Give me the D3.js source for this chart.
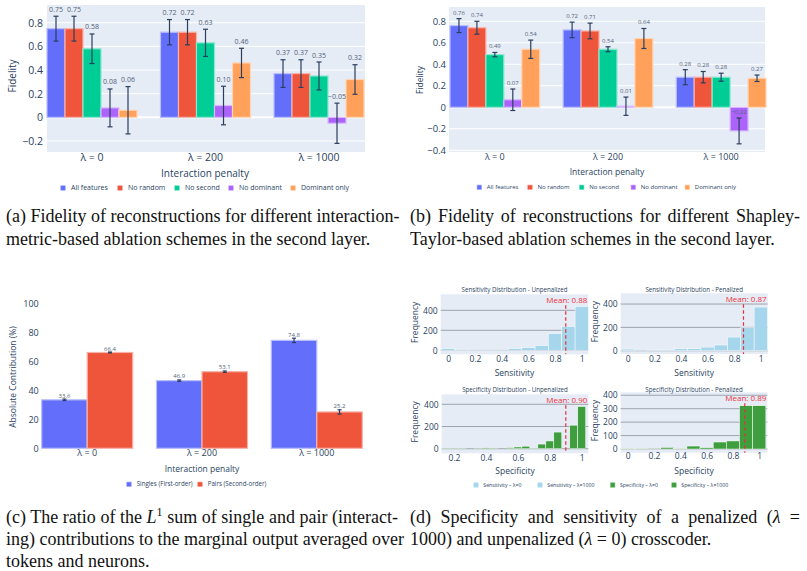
<!DOCTYPE html>
<html><head><meta charset="utf-8">
<script src="https://cdn.jsdelivr.net/npm/d3@7"></script>
<style>body{margin:0;background:#fff} svg{display:block}</style>
</head><body>
<svg id="fig" width="807" height="571"></svg>
<script>
// ---------------- DATA ----------------
const categories = ["λ = 0", "λ = 200", "λ = 1000"];
const ablationNames = ["All features", "No random", "No second", "No dominant", "Dominant only"];
const ablationColors = ["#636EFA", "#EF553B", "#00CC96", "#AB63FA", "#FFA15A"];
// (a) rows = series, columns = categories
const fidelityA = [[0.75, 0.72, 0.37], [0.75, 0.72, 0.37], [0.58, 0.63, 0.35], [0.08, 0.10, -0.05], [0.06, 0.46, 0.32]];
const errorA = [[0.105, 0.107, 0.117], [0.105, 0.107, 0.117], [0.125, 0.115, 0.118], [0.16, 0.163, 0.17], [0.20, 0.124, 0.125]];
const yTicksA = [-0.2, 0, 0.2, 0.4, 0.6, 0.8];
// (b)
const fidelityB = [[0.76, 0.72, 0.28], [0.74, 0.71, 0.28], [0.49, 0.54, 0.28], [0.07, 0.01, -0.22], [0.54, 0.64, 0.27]];
const errorB = [[0.065, 0.072, 0.07], [0.06, 0.073, 0.053], [0.02, 0.023, 0.037], [0.10, 0.085, 0.12], [0.085, 0.093, 0.03]];
const yTicksB = [-0.4, -0.2, 0, 0.2, 0.4, 0.6, 0.8];
// (c)
const orderNames = ["Singles (First-order)", "Pairs (Second-order)"];
const orderColors = ["#636EFA", "#EF553B"];
const contributionC = [[33.6, 46.9, 74.8], [66.4, 53.1, 25.2]];
const errorC = [[0.5, 0.5, 1.5], [0.3, 0.5, 1.5]];
const yTicksC = [0, 20, 40, 60, 80, 100];
// (d) histograms: bin centers and counts
const sensBins = [0, 0.1, 0.2, 0.3, 0.4, 0.5, 0.6, 0.7, 0.8, 0.9, 1.0];
const sensUnpenalized = [17, 7, 4, 4, 4, 17, 27, 47, 167, 237, 437];
const sensPenalized = [14, 2, 6, 6, 17, 17, 31, 49, 117, 197, 374];
const specBinsUnpen = [0.15, 0.2, 0.25, 0.3, 0.35, 0.4, 0.45, 0.5, 0.55, 0.6, 0.65, 0.7, 0.75, 0.8, 0.85, 0.9, 0.95, 1.0];
const specUnpenalized = [3, 3, 3, 0, 4, 9, 4, 0, 10, 16, 23, 2, 42, 70, 150, 0, 212, 380];
const specBinsPen = [0, 0.1, 0.2, 0.3, 0.4, 0.5, 0.6, 0.7, 0.8, 0.9, 1.0];
const specPenalized = [5, 5, 1, 12, 5, 22, 10, 52, 60, 322, 322];
const meanValues = [0.88, 0.87, 0.90, 0.89];
const histTitles = ["Sensitivity Distribution - Unpenalized", "Sensitivity Distribution - Penalized",
                    "Specificity Distribution - Unpenalized", "Specificity Distribution - Penalized"];
const histLegend = ["Sensitivity – λ=0", "Sensitivity – λ=1000", "Specificity – λ=0", "Specificity – λ=1000"];
const histColors = ["#A6D6EC", "#A6D6EC", "#3E9E3E", "#3E9E3E"];

// ---------------- DRAWING ----------------
const svg = d3.select("#fig");
const FONT = "'Open Sans', verdana, arial, sans-serif";
const INK = "#2a3f5f";
const SERIF = "'Liberation Serif', 'Times New Roman', serif";

function styleAxis(sel, size) {
  sel.attr("font-family", FONT).attr("font-size", size);
  sel.select(".domain").remove();
  sel.selectAll("text").attr("fill", INK);
}

function legend(items, colors, xs, y, size, sq, off) {
  const g = svg.append("g").attr("font-family", FONT).attr("font-size", size).attr("fill", INK);
  items.forEach((name, i) => {
    g.append("rect").attr("x", xs[i] - sq / 2).attr("y", y - sq / 2).attr("width", sq).attr("height", sq)
      .attr("fill", colors[i]).attr("stroke", d3.interpolateRgb(colors[i], "#fff")(0.4)).attr("stroke-width", 0.6);
    g.append("text").attr("x", xs[i] + off).attr("y", y).attr("dy", "0.35em").text(name);
  });
}

function barPanel(cfg) {
  const g = svg.append("g");
  const x = d3.scaleBand().domain(categories).range([cfg.barX0, cfg.barX1]).paddingInner(0.207).paddingOuter(0);
  const inner = d3.scaleBand().domain(d3.range(cfg.names.length)).range([0, x.bandwidth()]);
  const y = d3.scaleLinear().domain(cfg.yDomain).range([cfg.box.y1, cfg.box.y0]);
  if (cfg.bg) {
    g.append("rect").attr("x", cfg.box.x0).attr("y", cfg.box.y0)
      .attr("width", cfg.box.x1 - cfg.box.x0).attr("height", cfg.box.y1 - cfg.box.y0).attr("fill", cfg.bg);
    g.selectAll("line.grid").data(cfg.yTicks).join("line").attr("class", "grid")
      .attr("x1", cfg.box.x0).attr("x2", cfg.box.x1).attr("y1", d => y(d)).attr("y2", d => y(d))
      .attr("stroke", "#fff").attr("stroke-width", d => d === 0 ? 2 : 1);
  }
  g.append("g").attr("transform", `translate(${cfg.box.x0},0)`)
    .call(d3.axisLeft(y).tickValues(cfg.yTicks).tickSize(0).tickPadding(cfg.tickPad).tickFormat(cfg.fmt))
    .call(s => styleAxis(s, cfg.tickFont));
  g.append("g").attr("transform", `translate(0,${cfg.box.y1})`)
    .call(d3.axisBottom(x).tickSize(0).tickPadding(cfg.catPad))
    .call(s => styleAxis(s, cfg.catFont));
  // bars
  const flat = [];
  cfg.values.forEach((row, si) => row.forEach((v, ci) => flat.push({ si, ci, v, e: cfg.errors[si][ci] })));
  g.selectAll("rect.bar").data(flat).join("rect").attr("class", "bar")
    .attr("x", d => x(categories[d.ci]) + inner(d.si))
    .attr("width", inner.bandwidth())
    .attr("y", d => y(Math.max(0, d.v)))
    .attr("height", d => Math.abs(y(d.v) - y(0)))
    .attr("fill", d => cfg.colors[d.si])
    .attr("stroke", d => d3.interpolateRgb(cfg.colors[d.si], "#fff")(0.55))
    .attr("stroke-width", 1.2);
  // error bars
  const cx = d => x(categories[d.ci]) + inner(d.si) + inner.bandwidth() / 2;
  const eg = g.append("g").attr("stroke", INK).attr("stroke-width", 1.2);
  eg.selectAll("line.v").data(flat).join("line").attr("x1", cx).attr("x2", cx)
    .attr("y1", d => y(d.v + d.e)).attr("y2", d => y(d.v - d.e));
  eg.selectAll("line.t").data(flat).join("line").attr("x1", d => cx(d) - cfg.cap).attr("x2", d => cx(d) + cfg.cap)
    .attr("y1", d => y(d.v + d.e)).attr("y2", d => y(d.v + d.e));
  eg.selectAll("line.b").data(flat).join("line").attr("x1", d => cx(d) - cfg.cap).attr("x2", d => cx(d) + cfg.cap)
    .attr("y1", d => y(d.v - d.e)).attr("y2", d => y(d.v - d.e));
  // value labels
  g.selectAll("text.val").data(flat).join("text").attr("class", "val")
    .attr("x", cx).attr("y", d => y(d.v + d.e) - cfg.labelGap)
    .attr("text-anchor", "middle").attr("font-family", FONT).attr("font-size", cfg.labelFont)
    .attr("fill", "#55637a").text(d => cfg.labelFmt(d.v));
  // axis titles
  g.append("text").attr("x", cfg.xTitle[0]).attr("y", cfg.xTitle[1]).attr("text-anchor", "middle")
    .attr("font-family", FONT).attr("font-size", cfg.titleFont).attr("fill", INK).attr("dy", "0.35em").text("Interaction penalty");
  g.append("text").attr("transform", `translate(${cfg.yTitle[0]},${cfg.yTitle[1]}) rotate(-90)`).attr("text-anchor", "middle")
    .attr("font-family", FONT).attr("font-size", cfg.titleFont).attr("fill", INK).attr("dy", "0.35em").text(cfg.yLabel);
}

const fmtFid = d => d === 0 ? "0" : d3.format(".1f")(d);

barPanel({
  box: { x0: 47, x1: 365, y0: 5, y1: 152 }, barX0: 47, barX1: 364, bg: "#E5ECF6",
  yDomain: [-0.293, 0.95], yTicks: yTicksA, fmt: fmtFid, tickPad: 4, tickFont: 10.5, catFont: 10.5, catPad: 1.5,
  values: fidelityA, errors: errorA, names: ablationNames, colors: ablationColors, cap: 2.5,
  labelGap: 4.5, labelFont: 7, labelFmt: d3.format(".2f"),
  xTitle: [205, 173], yTitle: [12.5, 76], titleFont: 10, yLabel: "Fidelity"
});
legend(ablationNames, ablationColors, [63, 120, 177, 231, 293], 188, 7, 4.5, 8);

barPanel({
  box: { x0: 449, x1: 765, y0: 7, y1: 152 }, barX0: 450, barX1: 766, bg: "#E5ECF6",
  yDomain: [-0.416, 0.933], yTicks: yTicksB, fmt: fmtFid, tickPad: 3, tickFont: 9.5, catFont: 9, catPad: 1.5,
  values: fidelityB, errors: errorB, names: ablationNames, colors: ablationColors, cap: 2.5,
  labelGap: 4, labelFont: 6, labelFmt: d3.format(".2f"),
  xTitle: [607, 172], yTitle: [420, 80], titleFont: 8.5, yLabel: "Fidelity"
});
legend(ablationNames, ablationColors, [479.3, 530, 581.7, 633.3, 687.3], 187.3, 6, 4.5, 7.5);

barPanel({
  box: { x0: 41.7, x1: 362.3, y0: 304, y1: 448.3 }, barX0: 41.7, barX1: 362.3, bg: null,
  yDomain: [0, 100], yTicks: yTicksC, fmt: d3.format("d"), tickPad: 3, tickFont: 9, catFont: 9, catPad: 1.5,
  values: contributionC, errors: errorC, names: orderNames, colors: orderColors, cap: 2,
  labelGap: 1.5, labelFont: 6, labelFmt: d3.format(".1f"),
  xTitle: [202, 469], yTitle: [13.5, 377], titleFont: 8.5, yLabel: "Absolute Contribution (%)"
});
legend(orderNames, orderColors, [129, 200], 484.3, 6.2, 4.5, 7.7);

// ---------- (d) histograms ----------
const hists = [
  { box: { x0: 440.7, x1: 588.3, y0: 294.3, y1: 354.3 }, xd: [-0.057, 1.049], yd: [-40, 560], yt: [0, 200, 400],
    xt: [0, 0.2, 0.4, 0.6, 0.8, 1], bins: sensBins, w: 0.1, counts: sensUnpenalized, color: histColors[0],
    xl: "Sensitivity", yTitleX: 415, tickY: 363, labY: 375.5, titleY: 292.3 },
  { box: { x0: 620.7, x1: 767.7, y0: 293.3, y1: 354 }, xd: [-0.053, 1.052], yd: [-28, 492], yt: [0, 200, 400],
    xt: [0, 0.2, 0.4, 0.6, 0.8, 1], bins: sensBins, w: 0.1, counts: sensPenalized, color: histColors[1],
    xl: "Sensitivity", yTitleX: 595, tickY: 363, labY: 375.5, titleY: 292.3 },
  { box: { x0: 441.7, x1: 588.3, y0: 394.3, y1: 453.3 }, xd: [0.123, 1.041], yd: [-41, 490], yt: [0, 200, 400],
    xt: [0.2, 0.4, 0.6, 0.8, 1], bins: specBinsUnpen, w: 0.05, counts: specUnpenalized, color: histColors[2],
    xl: "Specificity", yTitleX: 415, tickY: 461.5, labY: 474, titleY: 391.5 },
  { box: { x0: 620.7, x1: 767.3, y0: 392.3, y1: 452.7 }, xd: [-0.053, 1.061], yd: [-27.5, 422], yt: [0, 100, 200, 300, 400],
    xt: [0, 0.2, 0.4, 0.6, 0.8, 1], bins: specBinsPen, w: 0.1, counts: specPenalized, color: histColors[3],
    xl: "Specificity", yTitleX: 595, tickY: 460, labY: 474, titleY: 391.5 }
];
hists.forEach((h, i) => {
  const g = svg.append("g");
  const x = d3.scaleLinear().domain(h.xd).range([h.box.x0, h.box.x1]);
  const y = d3.scaleLinear().domain(h.yd).range([h.box.y1, h.box.y0]);
  g.append("rect").attr("x", h.box.x0).attr("y", h.box.y0).attr("width", h.box.x1 - h.box.x0)
    .attr("height", h.box.y1 - h.box.y0).attr("fill", "#E5ECF6");
  g.selectAll("line.grid").data(h.yt).join("line").attr("x1", h.box.x0).attr("x2", h.box.x1)
    .attr("y1", d => y(d)).attr("y2", d => y(d)).attr("stroke", "#9ea4ad").attr("stroke-width", 1);
  const data = h.bins.map((b, k) => ({ b, c: h.counts[k] }));
  g.selectAll("rect.bar").data(data).join("rect")
    .attr("x", d => x(d.b - h.w / 2)).attr("width", d => x(d.b + h.w / 2) - x(d.b - h.w / 2))
    .attr("y", d => y(d.c)).attr("height", d => y(0) - y(d.c))
    .attr("fill", h.color).attr("stroke", "#fff").attr("stroke-width", 0.5);
  // mean line
  g.append("line").attr("x1", x(meanValues[i])).attr("x2", x(meanValues[i]))
    .attr("y1", h.box.y0 + 11).attr("y2", h.box.y1)
    .attr("stroke", "#e8303a").attr("stroke-width", 1.2).attr("stroke-dasharray", "3.5,2.5");
  g.append("text").attr("x", h.box.x1 - 1).attr("y", h.box.y0 + 9).attr("text-anchor", "end")
    .attr("font-family", FONT).attr("font-size", 8).attr("fill", "#f0303a")
    .text("Mean: " + d3.format(".2f")(meanValues[i]));
  // axes
  g.append("g").attr("transform", `translate(${h.box.x0},0)`)
    .call(d3.axisLeft(y).tickValues(h.yt).tickSize(0).tickPadding(3).tickFormat(d3.format("d")))
    .call(s => styleAxis(s, 8.5));
  g.append("g").attr("transform", `translate(0,${h.tickY - 7})`)
    .call(d3.axisBottom(x).tickValues(h.xt).tickSize(0).tickPadding(0).tickFormat(d => d === 0 ? "0" : d === 1 ? "1" : d3.format(".1f")(d)))
    .call(s => styleAxis(s, 8.5));
  const cxm = (h.box.x0 + h.box.x1) / 2;
  g.append("text").attr("x", cxm).attr("y", h.labY).attr("text-anchor", "middle").attr("font-family", FONT)
    .attr("font-size", 8.5).attr("fill", INK).text(h.xl);
  g.append("text").attr("x", cxm).attr("y", h.titleY).attr("text-anchor", "middle").attr("font-family", FONT)
    .attr("font-size", 6.2).attr("fill", INK).text(histTitles[i]);
  g.append("text").attr("transform", `translate(${h.yTitleX},${(h.box.y0 + h.box.y1) / 2 - 2}) rotate(-90)`)
    .attr("text-anchor", "middle").attr("dy", "0.35em").attr("font-family", FONT).attr("font-size", 8.5)
    .attr("fill", INK).text("Frequency");
});
legend(histLegend, histColors, [476, 540, 612.7, 674], 485, 5.2, 4.5, 7.3);

// ---------- captions ----------
function caption(x0, x1, y0, lh, lines) {
  lines.forEach((ln, i) => {
    const t = svg.append("text").attr("x", x0).attr("y", y0 + i * lh)
      .attr("font-family", SERIF).attr("font-size", 18).attr("fill", "#111");
    ln.parts.forEach(p => {
      const s = t.append("tspan").text(p.t);
      if (p.i) s.attr("font-style", "italic");
      if (p.sup) s.attr("font-size", 12).attr("dy", -7);
      if (p.down) s.attr("dy", 7);
    });
    if (ln.j) {
      const len = t.node().getComputedTextLength();
      const spaces = ln.parts.map(p => (p.t.match(/ /g) || []).length).reduce((a, b) => a + b, 0);
      if (spaces > 0) t.attr("word-spacing", Math.max(0, (x1 - x0 - len) / spaces));
    }
  });
}
caption(6, 398, 222, 22.5, [
  { j: true, parts: [{ t: "(a) Fidelity of reconstructions for different interaction-" }] },
  { parts: [{ t: "metric-based ablation schemes in the second layer." }] }
]);
caption(410, 800, 222, 22.5, [
  { j: true, parts: [{ t: "(b) Fidelity of reconstructions for different Shapley-" }] },
  { parts: [{ t: "Taylor-based ablation schemes in the second layer." }] }
]);
caption(6, 398, 523, 22, [
  { j: true, parts: [{ t: "(c) The ratio of the " }, { t: "L", i: true }, { t: "1", sup: true }, { t: " sum of single and pair (interact-", down: true }] },
  { j: true, parts: [{ t: "ing) contributions to the marginal output averaged over" }] },
  { parts: [{ t: "tokens and neurons." }] }
]);
caption(410, 800, 523, 22, [
  { j: true, parts: [{ t: "(d) Specificity and sensitivity of a penalized (" }, { t: "λ", i: true }, { t: " =" }] },
  { parts: [{ t: "1000) and unpenalized (" }, { t: "λ", i: true }, { t: " = 0) crosscoder." }] }
]);
</script>
</body></html>
